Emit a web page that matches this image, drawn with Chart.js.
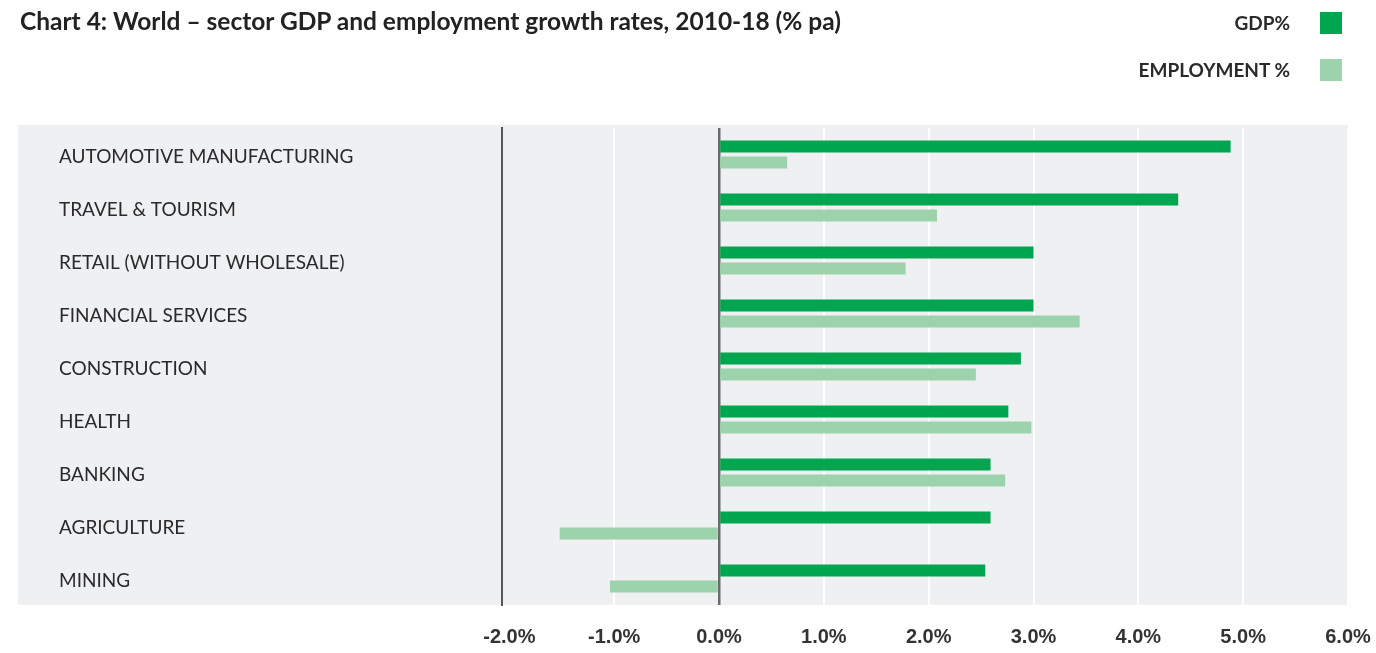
<!DOCTYPE html>
<html>
<head>
<meta charset="utf-8">
<script src="https://cdn.jsdelivr.net/npm/chart.js@4"></script>
<style>
  body { margin: 0; background: #fff; }
  #wrap { position: relative; width: 1376px; height: 653px; }
  #titulo { position: absolute; left: 20px; top: 6px; font: bold 24.5px Lato, sans-serif; color: #222; }
  .leyenda { position: absolute; right: 34px; font: bold 19px Lato, sans-serif; color: #2a2a2a; display: flex; align-items: center; }
  .leyenda span.caja { display: inline-block; width: 22px; height: 22px; margin-left: 30px; }
</style>
</head>
<body>
<div id="wrap">
  <div id="titulo">Chart 4: World – sector GDP and employment growth rates, 2010-18 (% pa)</div>
  <div class="leyenda" style="top: 11px;">GDP%<span class="caja" style="background:#00a54f"></span></div>
  <div class="leyenda" style="top: 58px;">EMPLOYMENT %<span class="caja" style="background:#9cd3ad"></span></div>
  <canvas id="grafica" width="1376" height="653"></canvas>
</div>
<script>
const sectores = ['AUTOMOTIVE MANUFACTURING', 'TRAVEL & TOURISM', 'RETAIL (WITHOUT WHOLESALE)', 'FINANCIAL SERVICES',
  'CONSTRUCTION', 'HEALTH', 'BANKING', 'AGRICULTURE', 'MINING'];
const gdp = [4.88, 4.38, 3.0, 3.0, 2.88, 2.76, 2.59, 2.59, 2.54];
const empleo = [0.65, 2.08, 1.78, 3.44, 2.45, 2.98, 2.73, -1.52, -1.04];
const marcas = [-2, -1, 0, 1, 2, 3, 4, 5, 6];

// fondo gris detras de etiquetas y barras
const fondo = {
  id: 'fondo',
  beforeDraw(chart) {
    const { ctx, chartArea } = chart;
    ctx.save();
    ctx.fillStyle = '#eff0f2';
    ctx.fillRect(18, 125, chartArea.right - 18, chartArea.bottom - 125);
    ctx.restore();
  }
};

const ctx = document.getElementById('grafica').getContext('2d');
new Chart(ctx, {
  type: 'bar',
  data: {
    labels: sectores,
    datasets: [
      { label: 'GDP%', data: gdp, backgroundColor: '#00a54f', categoryPercentage: 0.604, barPercentage: 0.75 },
      { label: 'EMPLOYMENT %', data: empleo, backgroundColor: '#9cd3ad', categoryPercentage: 0.604, barPercentage: 0.75 }
    ]
  },
  options: {
    indexAxis: 'y',
    responsive: false,
    animation: false,
    layout: { padding: { left: 59, right: 28, top: 128, bottom: 0 } },
    plugins: { legend: { display: false }, tooltip: { enabled: false } },
    scales: {
      x: {
        min: -2.07,
        max: 6,
        afterBuildTicks: s => { s.ticks = marcas.map(v => ({ value: v })); },
        afterFit: s => { s.height = 48; s.paddingLeft = 0; s.paddingRight = 0; },
        ticks: {
          padding: 20,
          color: '#333',
          font: { family: '"Liberation Sans", "DejaVu Sans", sans-serif', size: 20, weight: 'bold condensed' },
          callback: v => v.toFixed(1) + '%'
        },
        grid: {
          drawTicks: false,
          color: c => {
            if (!c.tick) return '#ffffff';
            if (c.tick.value === 0) return '#6b6b6b';
            if (c.tick.value === -2) return 'rgba(0,0,0,0)';
            return '#ffffff';
          },
          lineWidth: c => c.tick && c.tick.value === 0 ? 2.5 : 2
        },
        border: { display: false }
      },
      y: {
        afterFit: s => { s.width = 443; },
        ticks: {
          crossAlign: 'far',
          labelOffset: 2,
          color: '#2a2a2a',
          font: { family: 'Lato, sans-serif', size: 19 }
        },
        grid: { display: false },
        border: { display: true, color: '#555', width: 2 }
      }
    }
  },
  plugins: [fondo]
});
</script>
</body>
</html>
